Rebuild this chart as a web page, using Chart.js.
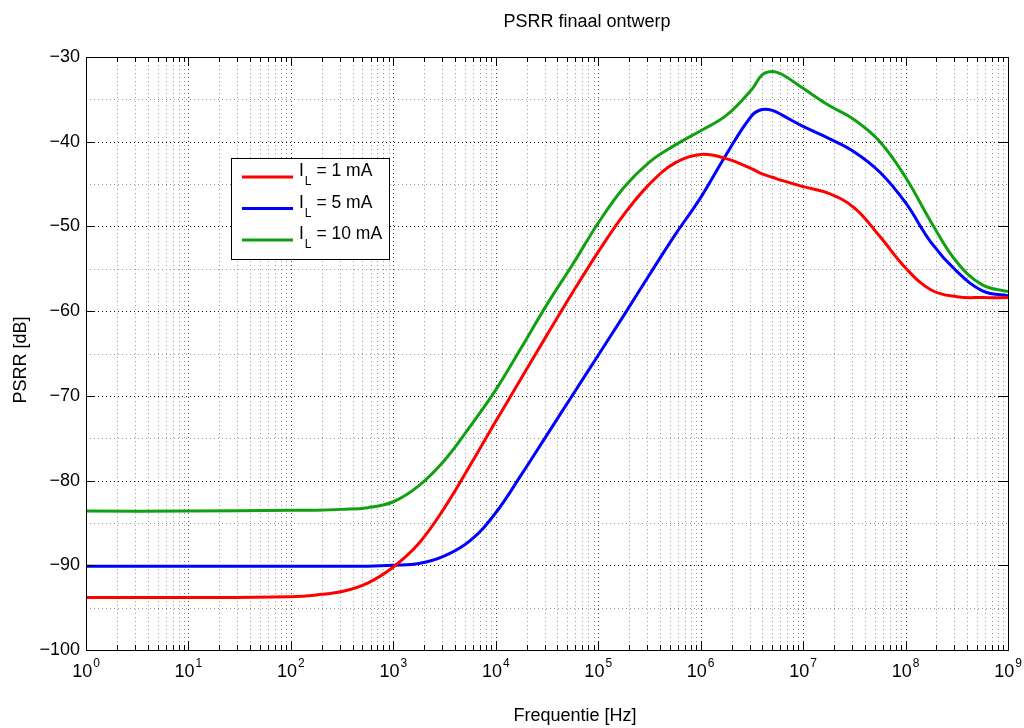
<!DOCTYPE html>
<html>
<head>
<meta charset="utf-8">
<script src="https://cdn.jsdelivr.net/npm/chart.js@4.4.0/dist/chart.umd.min.js"></script>
<style>
  html, body { margin: 0; padding: 0; background: #fff; }
</style>
</head>
<body>
<canvas id="myChart" width="1024" height="728"></canvas>
<script>
// frequency as log10(Hz)
const freqExp = [0, 1, 2, 2.25, 2.5, 2.75, 3, 3.25, 3.5, 3.75, 4, 4.25, 4.5, 4.75, 5, 5.25,
                 5.5, 5.75, 6, 6.25, 6.5, 6.6, 6.7, 6.8, 7, 7.25, 7.5, 7.75, 8, 8.25, 8.5, 8.75, 9];
// PSRR [dB]
const psrr1mA = [-93.8, -93.8, -93.7, -93.5, -93.1, -92.1, -90.2, -87.4, -83.2, -78.2, -73.0, -67.9, -62.8, -57.8, -53.0, -48.6,
                 -45.0, -42.5, -41.5, -42.0, -43.2, -43.8, -44.2, -44.6, -45.3, -46.1, -47.8, -51.2, -54.9, -57.5, -58.3, -58.4, -58.4];
const psrr5mA = [-90.1, -90.1, -90.1, -90.1, -90.1, -90.1, -90.0, -89.8, -88.9, -87.1, -83.8, -79.3, -74.6, -69.9, -65.2, -60.5,
                 -55.7, -51.0, -46.6, -41.5, -36.9, -36.2, -36.3, -36.9, -38.2, -39.6, -41.2, -43.6, -47.2, -51.9, -55.3, -57.6, -58.2];
const psrr10mA = [-83.6, -83.6, -83.5, -83.5, -83.4, -83.2, -82.5, -80.6, -77.6, -73.6, -69.3, -64.3, -59.2, -54.5, -49.6, -45.4,
                  -42.4, -40.4, -38.7, -36.9, -33.8, -32.1, -31.7, -32.1, -33.7, -35.7, -37.4, -40.0, -44.2, -49.5, -54.2, -56.9, -57.7];

const seriesNames = ['1 mA', '5 mA', '10 mA'];
const seriesColors = ['#ff0000', '#0000ff', '#11a011'];
const xDecades = [0, 1, 2, 3, 4, 5, 6, 7, 8, 9];
const yMin = -100, yMax = -30;

const FONT = '"Liberation Sans", Arial, Helvetica, sans-serif';

function toPoints(vals) {
    return freqExp.map((e, i) => ({ x: Math.pow(10, e), y: vals[i] }));
}

// MATLAB style frame: dotted grid, inward ticks, legend box, labels
const matlabFrame = {
    id: 'matlabFrame',
    beforeDatasetsDraw(chart) {
        const { ctx, chartArea: a, scales } = chart;
        const xs = scales.x, ys = scales.y;
        ctx.save();
        ctx.lineWidth = 1;
        ctx.setLineDash([1, 3]);
        // vertical lines
        for (let n = 0; n < 9; n++) {
            for (let k = 1; k <= 9; k++) {
                if (n === 0 && k === 1) continue;
                const px = Math.round(xs.getPixelForValue(k * Math.pow(10, n))) + 0.5;
                ctx.strokeStyle = k === 1 ? '#444' : '#9a9a9a';
                ctx.beginPath();
                ctx.moveTo(px, a.top);
                ctx.lineTo(px, a.bottom);
                ctx.stroke();
            }
        }
        // horizontal lines
        for (let v = yMin + 5; v < yMax; v += 5) {
            const py = Math.round(ys.getPixelForValue(v)) + 0.5;
            ctx.strokeStyle = v % 10 === 0 ? '#111' : '#9a9a9a';
            ctx.beginPath();
            ctx.moveTo(a.left, py);
            ctx.lineTo(a.right, py);
            ctx.stroke();
        }
        ctx.restore();
    },
    afterDatasetsDraw(chart) {
        const { ctx, chartArea: a, scales } = chart;
        const xs = scales.x, ys = scales.y;
        ctx.save();
        ctx.strokeStyle = '#000';
        ctx.lineWidth = 1;
        ctx.setLineDash([]);
        // box
        ctx.strokeRect(Math.round(a.left) + 0.5, Math.round(a.top) + 0.5,
                       Math.round(a.right - a.left), Math.round(a.bottom - a.top));
        // x ticks, inward, top and bottom
        ctx.beginPath();
        for (let n = 0; n < 9; n++) {
            for (let k = 1; k <= 9; k++) {
                const px = Math.round(xs.getPixelForValue(k * Math.pow(10, n))) + 0.5;
                const len = k === 1 ? 9 : 5;
                ctx.moveTo(px, a.bottom); ctx.lineTo(px, a.bottom - len);
                ctx.moveTo(px, a.top); ctx.lineTo(px, a.top + len);
            }
        }
        // y ticks
        for (let v = yMin; v <= yMax; v += 10) {
            const py = Math.round(ys.getPixelForValue(v)) + 0.5;
            ctx.moveTo(a.left, py); ctx.lineTo(a.left + 9, py);
            ctx.moveTo(a.right, py); ctx.lineTo(a.right - 9, py);
        }
        ctx.stroke();

        // x tick labels 10^n
        ctx.fillStyle = '#000';
        ctx.textBaseline = 'alphabetic';
        ctx.textAlign = 'left';
        xDecades.forEach(n => {
            const px = xs.getPixelForValue(Math.pow(10, n));
            ctx.font = '18px ' + FONT;
            const wb = ctx.measureText('10').width;
            ctx.font = '12px ' + FONT;
            const we = ctx.measureText(String(n)).width;
            const x0 = px - (wb + we + 1) / 2;
            ctx.font = '18px ' + FONT;
            ctx.fillText('10', x0, a.bottom + 27);
            ctx.font = '12px ' + FONT;
            ctx.fillText(String(n), x0 + wb + 1, a.bottom + 17);
        });

        // legend
        const lx = 231, ly = 158, lw = 158, lh = 101;
        ctx.fillStyle = '#fff';
        ctx.fillRect(lx, ly, lw, lh);
        ctx.strokeRect(lx + 0.5, ly + 0.5, lw, lh);
        seriesNames.forEach((name, i) => {
            const rowY = 177 + i * 31.5;
            ctx.strokeStyle = seriesColors[i];
            ctx.lineWidth = 3;
            ctx.beginPath();
            ctx.moveTo(242, rowY);
            ctx.lineTo(293, rowY);
            ctx.stroke();
            ctx.fillStyle = '#000';
            let tx = 299;
            ctx.font = '17.5px ' + FONT;
            ctx.fillText('I', tx, rowY - 1);
            tx += ctx.measureText('I').width + 1;
            ctx.font = '12px ' + FONT;
            ctx.fillText('L', tx, rowY + 8);
            tx += ctx.measureText('L').width;
            ctx.font = '17.5px ' + FONT;
            ctx.fillText(' = ' + name, tx, rowY - 1);
        });

        // titles
        ctx.fillStyle = '#000';
        ctx.textAlign = 'center';
        ctx.font = '18px ' + FONT;
        ctx.fillText('PSRR finaal ontwerp', 587, 27);
        ctx.fillText('Frequentie [Hz]', 575, 721);
        ctx.translate(26, 360);
        ctx.rotate(-Math.PI / 2);
        ctx.fillText('PSRR [dB]', 0, 0);
        ctx.restore();
    }
};

const ctx = document.getElementById('myChart').getContext('2d');

const psrrChart = new Chart(ctx, {
    type: 'line',
    data: {
        datasets: [
            { label: 'I_L = ' + seriesNames[0], data: toPoints(psrr1mA), borderColor: seriesColors[0] },
            { label: 'I_L = ' + seriesNames[1], data: toPoints(psrr5mA), borderColor: seriesColors[1] },
            { label: 'I_L = ' + seriesNames[2], data: toPoints(psrr10mA), borderColor: seriesColors[2] }
        ].map(d => Object.assign(d, {
            borderWidth: 3,
            pointRadius: 0,
            fill: false,
            tension: 0.4
        }))
    },
    options: {
        responsive: false,
        animation: false,
        devicePixelRatio: 1,
        layout: { padding: { left: 0, top: 57, right: 16, bottom: 0 } },
        scales: {
            x: {
                type: 'logarithmic',
                min: 1,
                max: 1e9,
                grid: { display: false },
                border: { display: false },
                ticks: { display: false },
                afterFit: function(scale) { scale.height = 78; }
            },
            y: {
                min: yMin,
                max: yMax,
                grid: { display: false, drawTicks: false },
                border: { display: false },
                ticks: {
                    stepSize: 10,
                    padding: 6,
                    color: '#000',
                    font: { family: FONT, size: 18 },
                    callback: function(v) { return v % 10 === 0 ? '\u2212' + Math.abs(v) : ''; }
                },
                afterFit: function(scale) { scale.width = 86; }
            }
        },
        plugins: {
            legend: { display: false },
            tooltip: { enabled: false }
        }
    },
    plugins: [matlabFrame]
});
</script>
</body>
</html>
